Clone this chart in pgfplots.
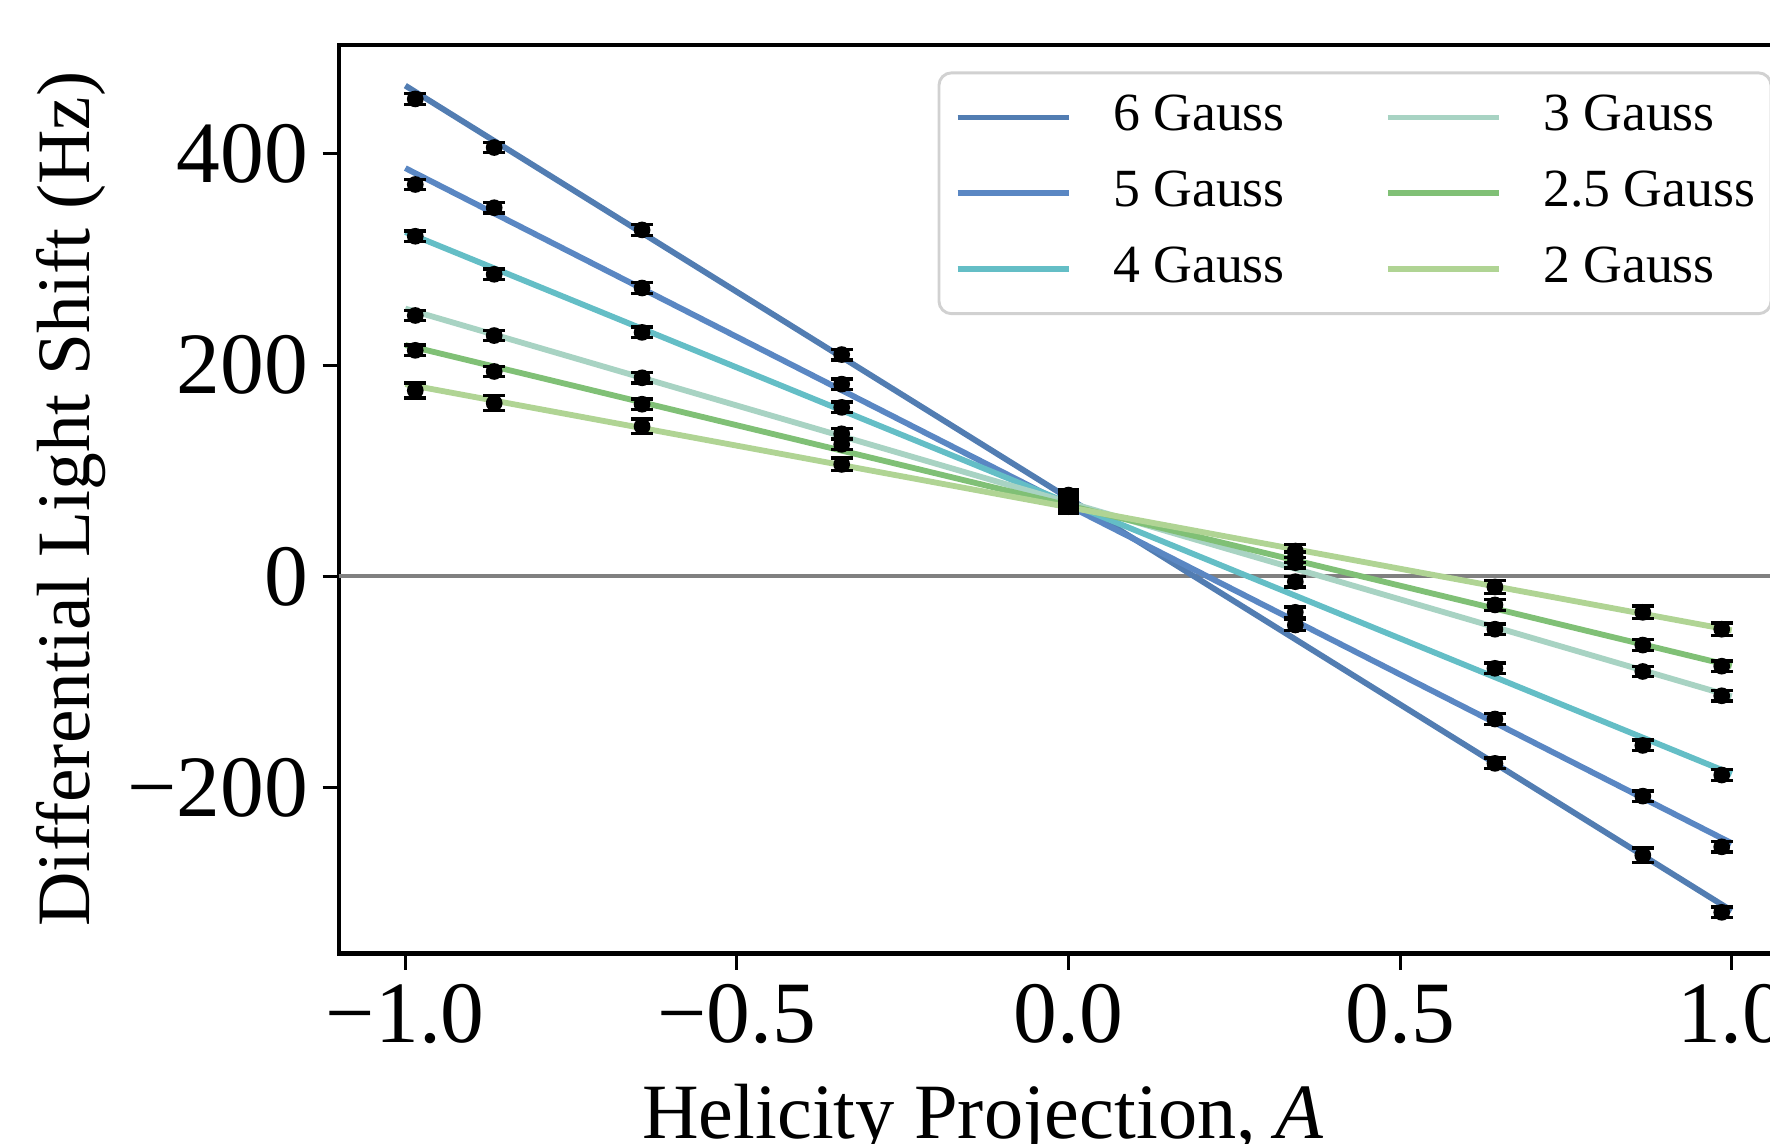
\documentclass[border=0pt]{standalone}
\usepackage{fontspec}
\setmainfont{Liberation Serif}
\usepackage{pgfplots}
\pgfplotsset{compat=1.18}
\definecolor{cSix}{RGB}{82,125,178}
\definecolor{cFive}{RGB}{90,135,195}
\definecolor{cFour}{RGB}{100,190,198}
\definecolor{cThree}{RGB}{168,211,195}
\definecolor{cTwoFive}{RGB}{128,192,118}
\definecolor{cTwo}{RGB}{176,212,148}
\pgfplotsset{
  pts/.style={only marks, mark=*, mark size=1.8pt, black, forget plot,
    error bars/.cd, y dir=both, y explicit,
    error bar style={line width=0.8pt, black},
    error mark options={rotate=90, line width=0.8pt, black, mark size=2.6pt}},
  fit/.style={line width=1.4pt, mark=none},
}
\begin{document}
\begin{tikzpicture}
\begin{axis}[
  scale only axis, width=350.16pt, height=218.04pt,
  xmin=-1.1, xmax=1.1, ymin=-357, ymax=503,
  axis line style={line width=1pt},
  tick align=outside, xtick pos=bottom, ytick pos=left,
  major tick length=3.9pt,
  tick style={line width=0.7pt, black},
  xtick={-1,-0.5,0,0.5,1},
  xticklabels={−1.0,−0.5,0.0,0.5,1.0},
  ytick={-200,0,200,400},
  yticklabels={−200,0,200,400},
  ticklabel style={font=\fontsize{21}{25}\selectfont},
  every axis x label/.style={at={(axis description cs:0.4414,-0.2032)}, anchor=base, font=\fontsize{18.8}{22}\selectfont},
  every axis y label/.style={at={(axis description cs:-0.1708,0.5)}, rotate=90, anchor=base, font=\fontsize{18.1}{22}\selectfont},
  xlabel={Helicity Projection, \textit{A}},
  ylabel={Differential Light Shift (Hz)},
  legend columns=3, transpose legend,
  legend cell align=left,
  legend style={at={(0.9825,0.9710)}, anchor=north east, draw=black!18, line width=0.7pt,
    rounded corners=3pt, fill=white, font=\fontsize{12.9}{15}\selectfont,
    inner xsep=3.8pt, inner ysep=5.2pt, row sep=7.2pt,
    nodes={inner sep=0pt, text height=8.6pt, text depth=2.4pt},
    /tikz/every odd column/.append style={column sep=10pt},
    /tikz/every even column/.append style={column sep=24pt}},
  legend image code/.code={\draw[#1, line width=1.4pt, rounded corners=0pt] (0pt,0pt) -- (26.6pt,0pt);},
]
\addplot[gray, line width=1pt, forget plot] coordinates {(-1.1,0) (1.1,0)};

\addplot[fit, cSix] coordinates {(-1,464.6) (1,-316.5)};
\addlegendentry{6 Gauss}
\addplot[fit, cFive] coordinates {(-1,386.5) (1,-252.6)};
\addlegendentry{5 Gauss}
\addplot[fit, cFour] coordinates {(-1,326) (1,-187)};
\addlegendentry{4 Gauss}
\addplot[fit, cThree] coordinates {(-1,253.5) (1,-113.5)};
\addlegendentry{3 Gauss}
\addplot[fit, cTwoFive] coordinates {(-1,219) (1,-84.7)};
\addlegendentry{2.5 Gauss}
\addplot[fit, cTwo] coordinates {(-1,182) (1,-51)};
\addlegendentry{2 Gauss}

% 6 Gauss
\addplot[pts] coordinates {(-0.985,452)+-(0,5) (-0.866,406)+-(0,5) (-0.643,328)+-(0,5) (-0.342,210)+-(0,5) (0,77)+-(0,5) (0.342,-46)+-(0,5) (0.643,-177)+-(0,5) (0.866,-264)+-(0,7) (0.985,-318)+-(0,5)};
% 5 Gauss
\addplot[pts] coordinates {(-0.985,371)+-(0,5) (-0.866,349)+-(0,5) (-0.643,273)+-(0,5) (-0.342,182)+-(0,5) (0,75)+-(0,5) (0.342,-34)+-(0,5) (0.643,-135)+-(0,5) (0.866,-208)+-(0,5) (0.985,-256)+-(0,5)};
% 4 Gauss
\addplot[pts] coordinates {(-0.985,322)+-(0,5) (-0.866,286)+-(0,5) (-0.643,231)+-(0,5) (-0.342,160)+-(0,5) (0,72)+-(0,5) (0.342,-5)+-(0,5) (0.643,-87)+-(0,5) (0.866,-160)+-(0,5) (0.985,-188)+-(0,5)};
% 3 Gauss
\addplot[pts] coordinates {(-0.985,247)+-(0,5) (-0.866,228)+-(0,5) (-0.643,188)+-(0,5) (-0.342,135)+-(0,5) (0,70)+-(0,5) (0.342,13)+-(0,5) (0.643,-50)+-(0,5) (0.866,-90)+-(0,5) (0.985,-113)+-(0,5)};
% 2.5 Gauss
\addplot[pts] coordinates {(-0.985,214)+-(0,5) (-0.866,194)+-(0,5) (-0.643,163)+-(0,5) (-0.342,125)+-(0,5) (0,68)+-(0,5) (0.342,18)+-(0,5) (0.643,-27)+-(0,5) (0.866,-65)+-(0,5) (0.985,-85)+-(0,5)};
% 2 Gauss
\addplot[pts] coordinates {(-0.985,176)+-(0,7) (-0.866,164)+-(0,7) (-0.643,142)+-(0,7) (-0.342,106)+-(0,6) (0,66)+-(0,6) (0.342,24)+-(0,6) (0.643,-10)+-(0,6) (0.866,-34)+-(0,6) (0.985,-50)+-(0,6)};
\end{axis}
\pgfresetboundingbox
\useasboundingbox (-81.36pt,-45.48pt) rectangle (343.44pt,228.84pt);
\end{tikzpicture}
\end{document}
